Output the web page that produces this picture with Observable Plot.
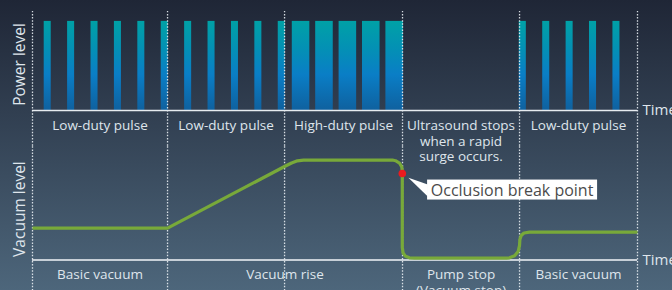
<!DOCTYPE html>
<html><head><meta charset="utf-8">
<script src="https://cdn.jsdelivr.net/npm/d3@7"></script>
<script src="https://cdn.jsdelivr.net/npm/@observablehq/plot@0.6"></script>
<style>
html,body{margin:0;padding:0;}
body{width:672px;height:290px;overflow:hidden;background:linear-gradient(#1f2636,#4d667b);font-family:"Open Sans",sans-serif;}
#wrap{position:relative;width:672px;height:290px;overflow:hidden;}
#wrap svg{position:absolute;left:0;overflow:visible;}
</style></head><body><div id="wrap"></div>
<script>
// ---- data (time in arbitrary units) ----
const pulseStart    = [5,15,25,35,45,55,65,75,85,95,105, 111,121,131,141,151, 208,218,228,238,248];
const pulseDuration = [3,3,3,3,3,3,3,3,3,3,3, 7.5,7.5,7.5,7.5,7.5, 3,3,3,3,3];
const pulseLevel    = [0.9,0.9,0.9,0.9,0.9,0.9,0.9,0.9,0.9,0.9,0.9, 0.9,0.9,0.9,0.9,0.9, 0.9,0.9,0.9,0.9,0.9];

const phaseEdges = [0, 57.7, 107.7, 158.1, 208.1, 258.5];
const powerPhaseLabels = ["Low-duty pulse","Low-duty pulse","High-duty pulse","Ultrasound stops\nwhen a rapid\nsurge occurs.","Low-duty pulse"];
const vacuumPhaseStart = [0, 57.7, 158.1, 208.1];
const vacuumPhaseEnd   = [57.7, 158.1, 208.1, 258.5];
const vacuumPhaseLabels = ["Basic vacuum","Vacuum rise","Pump stop\n(Vacuum stop)","Basic vacuum"];

const vacuumTime  = [0, 57.7, 108.1, 110.7, 113.2, 115.8, 153.8, 155.1, 156.8, 157.8, 158.0, 158.0, 158.35, 159.4, 161.1, 163.2, 202.6, 203.8, 206.0, 207.5, 208.1, 208.25, 208.8, 210.0, 212.4, 258.5];
const vacuumLevel = [27.8, 27.8, 82.1, 84.7, 86.6, 87.3, 87.3, 86.7, 84.7, 81.2, 77.3, 10.9, 6.1, 3.2, 1.9, 1.6, 1.6, 1.9, 3.7, 7.4, 12.7, 17.9, 21.4, 23.6, 24.3, 24.3];

const breakTime = 158.0, breakLevel = 75.5;
const breakLabel = "Occlusion break point";
const timeDomain = [0, 258.5];

// ---- tables ----
const pulses = pulseStart.map((s, i) => ({start: s, end: s + pulseDuration[i], level: pulseLevel[i]}));
const powerPhases = powerPhaseLabels.map((label, i) => ({label, mid: (phaseEdges[i] + phaseEdges[i + 1]) / 2}));
const vacuumPhases = vacuumPhaseLabels.map((label, i) => ({label, mid: (vacuumPhaseStart[i] + vacuumPhaseEnd[i]) / 2}));
const vacuum = vacuumTime.map((t, i) => ({t, v: vacuumLevel[i]}));

const textColor = "#dfe5ec";
const common = {
  width: 672, height: 145, marginLeft: 32, marginRight: 35,
  style: {background: "transparent", fontFamily: "'Open Sans', sans-serif", overflow: "visible"}
};
const divider = {stroke: "#e9eef3", strokeWidth: 1.3, strokeDasharray: "1.5,1.6", strokeOpacity: 0.9};

function gradientDefs() {
  const d = d3.create("svg:defs");
  const g = d.append("linearGradient").attr("id", "pulseFill").attr("x1", 0).attr("y1", 0).attr("x2", 0).attr("y2", 1);
  g.append("stop").attr("offset", "0%").attr("stop-color", "#00a1a6");
  g.append("stop").attr("offset", "30%").attr("stop-color", "#0391b4");
  g.append("stop").attr("offset", "60%").attr("stop-color", "#0a7ec6");
  g.append("stop").attr("offset", "100%").attr("stop-color", "#0f619f");
  return d.node();
}

const power = Plot.plot({
  ...common,
  marginTop: 11, marginBottom: 35,
  x: {domain: timeDomain, axis: null},
  y: {domain: [0, 1], axis: null},
  marks: [
    gradientDefs,
    Plot.rect(pulses, {x1: "start", x2: "end", y1: 0, y2: "level", fill: "url(#pulseFill)"}),
    Plot.ruleX(phaseEdges, {y1: -0.36, y2: 1, ...divider}),
    Plot.ruleY([0], {stroke: "#e6ebf0", strokeWidth: 1.6}),
    Plot.text(powerPhases, {x: "mid", text: "label", frameAnchor: "bottom", lineAnchor: "top", dy: 8, lineHeight: 1.17, fontSize: 13.5, fill: textColor}),
    Plot.text(["Power level"], {x: -5.5, y: 0.465, rotate: -90, fontSize: 15.5, fill: textColor}),
    Plot.text(["Time"], {x: timeDomain[1], y: 0, dx: 5, textAnchor: "start", fontSize: 15, fill: textColor})
  ]
});

function callout(index, scales) {
  const px = scales.x(breakTime), py = scales.y(breakLevel);
  const g = d3.create("svg:g");
  g.append("path").attr("d", `M${px + 6.6},${py + 4.8}L${px + 26},${py + 11.5}L${px + 26},${py + 23.5}Z`).attr("fill", "#fff");
  g.append("rect").attr("x", px + 25.3).attr("y", py + 6.5).attr("width", 170).attr("height", 20).attr("fill", "#fff");
  g.append("text").attr("x", px + 110.3).attr("y", py + 22.5).attr("text-anchor", "middle")
    .attr("font-size", 16).attr("fill", "#4b4b4b").attr("font-family", "'Open Sans', sans-serif").text(breakLabel);
  return g.node();
}

const vac = Plot.plot({
  ...common,
  marginTop: 0, marginBottom: 30.5,
  x: {domain: timeDomain, axis: null},
  y: {domain: [0, 100], axis: null},
  marks: [
    Plot.ruleX(phaseEdges, {y1: -27, y2: 100, ...divider}),
    Plot.ruleY([0], {stroke: "#f2f5f8", strokeWidth: 1.6}),
    Plot.line(vacuum, {x: "t", y: "v", stroke: "#78a93a", strokeWidth: 3.2, strokeLinejoin: "round", strokeLinecap: "butt"}),
    callout,
    Plot.dot([{t: breakTime, v: breakLevel}], {x: "t", y: "v", r: 3.8, fill: "#ea1b1f", stroke: "none"}),
    Plot.text(vacuumPhases, {x: "mid", text: "label", frameAnchor: "bottom", lineAnchor: "top", dy: 7.5, lineHeight: 1.17, fontSize: 13.5, fill: textColor}),
    Plot.text(["Vacuum level"], {x: -5.5, y: 44.5, rotate: -90, fontSize: 15.5, fill: textColor}),
    Plot.text(["Time"], {x: timeDomain[1], y: 0, dx: 5, textAnchor: "start", fontSize: 15, fill: textColor})
  ]
});

const wrap = document.getElementById("wrap");
power.style.top = "0px";
vac.style.top = "145px";
wrap.appendChild(power);
wrap.appendChild(vac);
</script>
</body></html>
